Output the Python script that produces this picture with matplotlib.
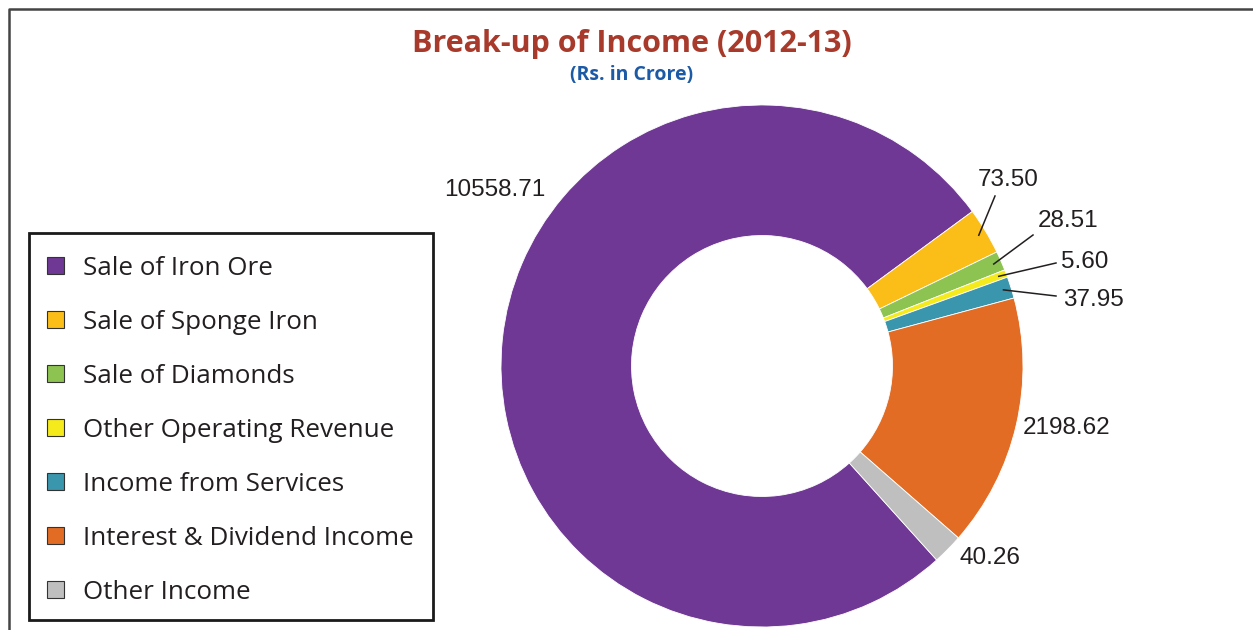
import matplotlib
matplotlib.use("Agg")
import matplotlib.pyplot as plt
from matplotlib.patches import Rectangle
from matplotlib.lines import Line2D
import numpy as np

# data
categories = ["Sale of Iron Ore", "Sale of Sponge Iron", "Sale of Diamonds",
              "Other Operating Revenue", "Income from Services",
              "Interest & Dividend Income", "Other Income"]
values = [10558.71, 73.50, 28.51, 5.60, 37.95, 2198.62, 40.26]
# ring share as drawn in the original (small items are enlarged there), degrees
drawn_share_deg = [275.7, 10.4, 4.3, 1.7, 4.8, 56.3, 6.8]
colors = ["#6f3894", "#fbbd18", "#8dc350", "#f4ea1c", "#3a96ad", "#e36c25", "#bfbfbf"]

title = "Break-up of Income (2012-13)"
subtitle = "(Rs. in Crore)"

# layout (pixels of the 1253x630 picture)
W, H = 1253, 630
CX, CY, R = 762, 366, 261
label_pos = [(495, 190), (1008, 180), (1068, 221), (1085, 262),
             (1093, 300), (1067, 428), (990, 558)]
leader_end = [None, (995, 196), (1033, 235), (1056, 263), (1056, 296), None, None]


def px(x, y):
    return (x - CX) / R, (CY - y) / R


fig = plt.figure(figsize=(W / 100, H / 100), dpi=100)
ax = fig.add_axes([0, 0, 1, 1])

wedges, _ = ax.pie(drawn_share_deg, colors=colors, startangle=-48, counterclock=False,
                   radius=1, wedgeprops=dict(width=0.5, edgecolor="white", linewidth=0.6))

x0, y1 = px(0, 0)
x1, y0 = px(W, H)
ax.set_xlim(x0, x1)
ax.set_ylim(y0, y1)
ax.set_aspect("auto")
ax.axis("off")

num_font = dict(family="Liberation Sans", fontsize=17.5, color="#231f20")
for w, v, pos, end in zip(wedges, values, label_pos, leader_end):
    ax.text(*px(*pos), f"{v:.2f}", ha="center", va="center", **num_font)
    if end is not None:
        mid = np.deg2rad((w.theta1 + w.theta2) / 2)
        sx, sy = 0.97 * np.cos(mid), 0.97 * np.sin(mid)
        ex, ey = px(*end)
        ax.plot([sx, ex], [sy, ey], color="#231f20", lw=1.1)

# title
fig.text(632 / W, 1 - 44 / H, title, ha="center", va="center", fontsize=22,
         fontweight="bold", family="Open Sans", color="#a83a2c")
fig.text(632 / W, 1 - 75 / H, subtitle, ha="center", va="center", fontsize=14,
         fontweight="bold", family="Open Sans", color="#1c5aa6")

# legend box
lx0, ly0 = px(29, 620)
lx1, ly1 = px(433, 233)
ax.add_patch(Rectangle((lx0, ly0), lx1 - lx0, ly1 - ly0, fill=False,
                       edgecolor="#1a1a1a", lw=2, clip_on=False))
for i, (cat, col) in enumerate(zip(categories, colors)):
    yc = 265.5 + i * 54
    bx, by = px(47, yc + 8.5)
    ax.add_patch(Rectangle((bx, by), 17 / R, 17 / R, facecolor=col,
                           edgecolor="#333333", lw=0.8))
    ax.text(*px(83, yc + 9.5), cat, ha="left", va="baseline", fontsize=18.7,
            family="Open Sans", color="#231f20")

# outer frame (left and top edges)
fig.add_artist(Line2D([9 / W, 9 / W, 1], [0, 1 - 9 / H, 1 - 9 / H],
                      color="#444444", lw=1.8, transform=fig.transFigure))

fig.savefig("out.png", dpi=100)
